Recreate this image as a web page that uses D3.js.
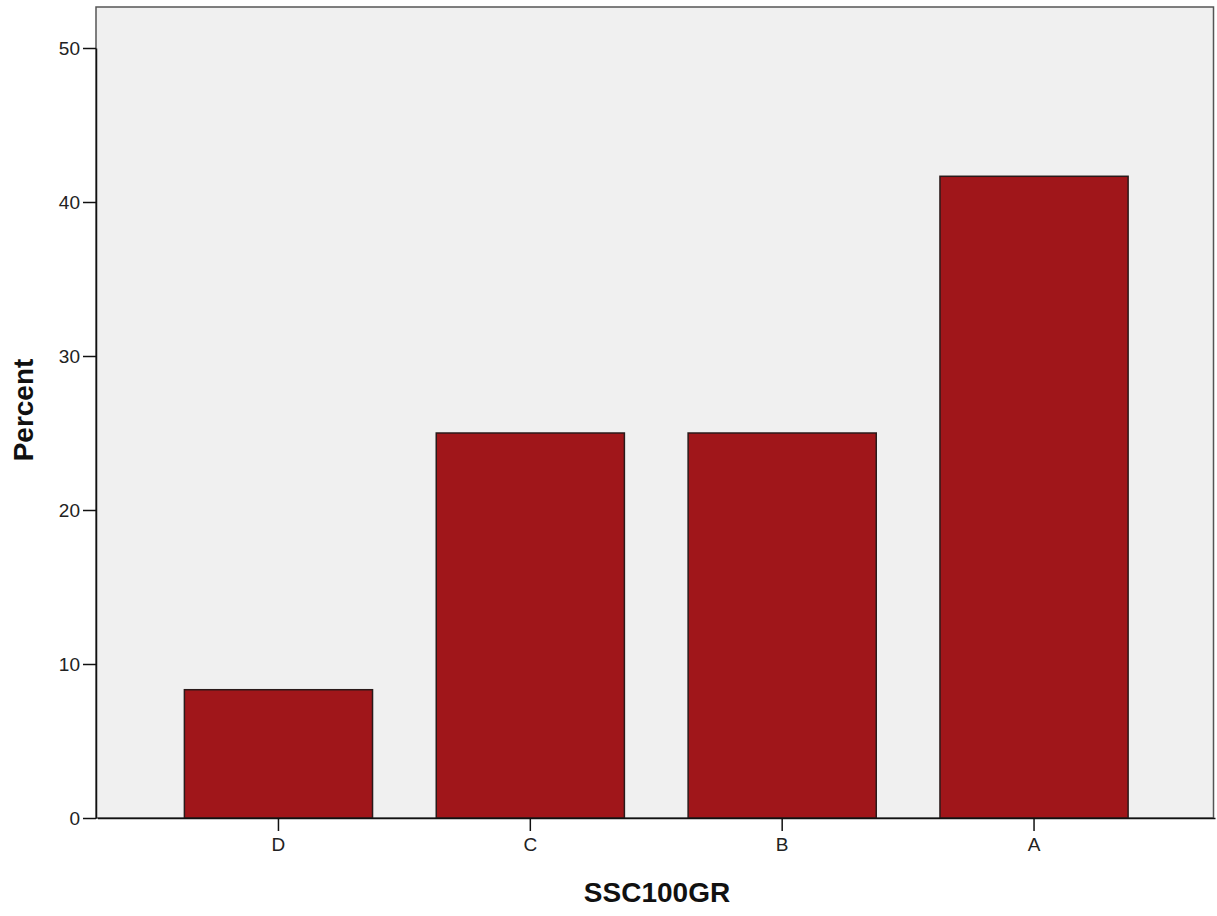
<!DOCTYPE html>
<html><head><meta charset="utf-8">
<script src="https://cdnjs.cloudflare.com/ajax/libs/d3/7.8.5/d3.min.js"></script>
<style>body{margin:0;background:#fff;}svg{display:block;font-family:Arial,"Liberation Sans",sans-serif;}</style>
</head><body>
<script>
const categories = ["D", "C", "B", "A"];
const percents = [8.33, 25.0, 25.0, 41.67];
const yTicks = [0, 10, 20, 30, 40, 50];

const W = 1217, H = 916;
const m = {left: 96, top: 7, right: 1213.5, bottom: 818};
const svg = d3.select("body").append("svg").attr("width", W).attr("height", H);

const x = d3.scaleBand().domain(categories).range([m.left + 1.5, m.right + 1.5]).paddingInner(0.253).paddingOuter(0.345);
const y = d3.scaleLinear().domain([0, 50]).range([m.bottom, 48]);

svg.append("rect").attr("x", m.left).attr("y", m.top).attr("width", m.right - m.left).attr("height", m.bottom - m.top)
  .attr("fill", "#f0f0f0").attr("stroke", "#555").attr("stroke-width", 1.5);

svg.append("g").selectAll("rect").data(percents).join("rect")
  .attr("x", (d, i) => x(categories[i]))
  .attr("y", d => y(d))
  .attr("width", x.bandwidth())
  .attr("height", d => y(0) - y(d))
  .attr("fill", "#a0161a").attr("stroke", "#2a1a1a").attr("stroke-width", 1.5);

const font = "Arial, 'Liberation Sans', sans-serif";
const yAxis = svg.append("g").attr("transform", `translate(${m.left},0)`)
  .call(d3.axisLeft(y).tickValues(yTicks).tickSize(13).tickSizeOuter(0).tickPadding(3).tickFormat(d3.format("d")));
yAxis.select(".domain").attr("stroke", "#111").attr("stroke-width", 1.5);
yAxis.selectAll(".tick line").attr("stroke", "#111").attr("stroke-width", 1.5);
yAxis.selectAll("text").attr("font-size", 19).attr("fill", "#222").attr("font-family", font);

const xAxis = svg.append("g").attr("transform", `translate(0,${m.bottom})`)
  .call(d3.axisBottom(x).tickSize(13).tickSizeOuter(0).tickPadding(7));
xAxis.select(".domain").attr("stroke", "#111").attr("stroke-width", 1.5);
xAxis.selectAll(".tick line").attr("stroke", "#111").attr("stroke-width", 1.5);
xAxis.selectAll("text").attr("font-size", 19).attr("fill", "#222").attr("font-family", font);

svg.append("text").attr("x", 657).attr("y", 902).attr("text-anchor", "middle")
  .attr("font-size", 28).attr("font-weight", "bold").attr("fill", "#111").text("SSC100GR");
svg.append("text").attr("transform", `translate(33,410) rotate(-90)`).attr("text-anchor", "middle")
  .attr("font-size", 28).attr("font-weight", "bold").attr("fill", "#111").text("Percent");
</script>
</body></html>
